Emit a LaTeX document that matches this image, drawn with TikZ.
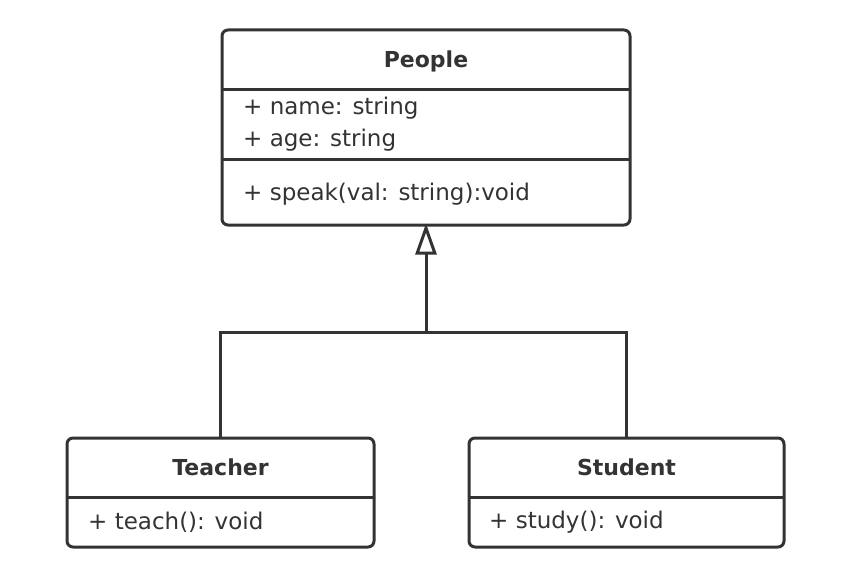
\documentclass[tikz,border=0pt]{standalone}
\usepackage{fontspec}
\setmainfont{DejaVu Sans}
\usetikzlibrary{arrows.meta}
\definecolor{ink}{HTML}{333333}
\tikzset{
  umlbox/.style={draw=ink, line width=3pt, rounded corners=6pt, inner sep=0pt},
  title/.style={font=\fontsize{22}{25}\selectfont\bfseries, text=ink},
  member/.style={font=\fontsize{23}{26}\selectfont, text=ink, anchor=west, inner sep=0pt},
  conn/.style={draw=ink, line width=3pt},
}
\begin{document}
\begin{tikzpicture}[x=1pt,y=-1pt]
\useasboundingbox (0,0) rectangle (848,572);
% People
\node[umlbox, minimum width=408pt, minimum height=195pt] (people) at (426,127.5) {};
\draw[conn] (222,90) -- (630,90);
\draw[conn] (222,160) -- (630,160);
\node[title] (ptitle) at (426,61) {People};
\node[member] (pname) at (243,108) {+ name: string};
\node[member] (page) at (243,140) {+ age: string};
\node[member] (pspeak) at (243,194) {+ speak(val: string):void};
% Teacher
\node[umlbox, minimum width=307pt, minimum height=109pt] (teacher) at (220.5,492.5) {};
\draw[conn] (67,497) -- (374,497);
\node[title] (ttitle) at (220.5,467) {Teacher};
\node[member] (tteach) at (88,522) {+ teach(): void};
% Student
\node[umlbox, minimum width=315pt, minimum height=109pt] (student) at (626.5,492.5) {};
\draw[conn] (469,497) -- (784,497);
\node[title] (stitle) at (626.5,467) {Student};
\node[member] (sstudy) at (489,522) {+ study(): void};
% connectors
\coordinate (join) at (426,332);
\draw[conn] (teacher.north -| 220,0) |- (join) -| (student.north);
\draw[conn, -{Triangle[open, length=31pt, width=21pt, line width=3pt]}] (join) -- ([yshift=3pt]people.south);
\end{tikzpicture}
\end{document}
